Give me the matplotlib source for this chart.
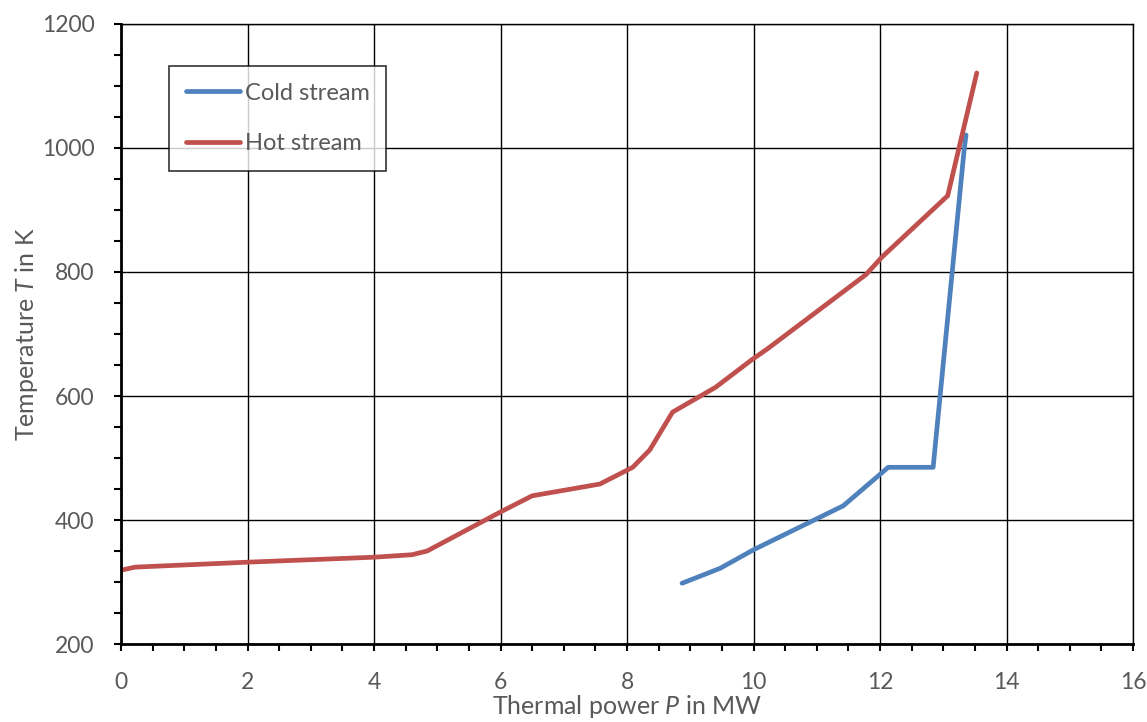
import numpy as np
import matplotlib.pyplot as plt
from matplotlib.ticker import MultipleLocator

plt.rcParams['font.family'] = ['Lato', 'DejaVu Sans']
plt.rcParams['mathtext.fontset'] = 'custom'
plt.rcParams['mathtext.it'] = 'Lato:italic'
plt.rcParams['mathtext.rm'] = 'Lato'

# hot stream: thermal power in MW, temperature in K
hot_P = [0.0, 0.22, 2.0, 4.0, 4.6, 4.84, 6.0, 6.5, 7.57, 8.09, 8.36, 8.72, 9.4, 9.98, 10.22, 11.78, 12.03, 13.07, 13.53]
hot_T = [319, 324, 332, 340, 344, 350, 413, 439, 458, 485, 513, 574, 614, 659, 676, 796, 824, 923, 1121]

# cold stream
cold_P = [8.87, 9.47, 10.0, 11.42, 12.13, 12.84, 13.33, 13.36]
cold_T = [298, 322, 352, 423, 485, 485, 997, 1021]

grey = '#595959'

fig = plt.figure(figsize=(11.47, 7.22), dpi=100)
ax = fig.add_axes([0.1055, 0.108, 0.8823, 0.8588])

ax.plot(cold_P, cold_T, color='#4F81BD', lw=3.4, solid_capstyle='round', solid_joinstyle='round', label='Cold stream')
ax.plot(hot_P, hot_T, color='#C0504D', lw=3.4, solid_capstyle='round', solid_joinstyle='round', label='Hot stream')

ax.set_xlim(0, 16)
ax.set_ylim(200, 1200)
ax.xaxis.set_major_locator(MultipleLocator(2))
ax.xaxis.set_minor_locator(MultipleLocator(0.5))
ax.yaxis.set_major_locator(MultipleLocator(200))
ax.yaxis.set_minor_locator(MultipleLocator(50))
ax.grid(True, which='major', color='black', lw=1)
ax.set_axisbelow(True)

for s in ax.spines.values():
    s.set_color('black')
    s.set_linewidth(1.0)
ax.spines['left'].set_linewidth(2)
ax.spines['bottom'].set_linewidth(2)

ax.tick_params(which='both', direction='out', length=5, width=1.5, color='black', labelcolor=grey, labelsize=16.5)
ax.tick_params(axis='x', which='major', pad=15)
ax.tick_params(axis='y', which='major', pad=14)

ax.set_xlabel('Thermal power $\\mathit{P}$ in MW', fontsize=18, color=grey, labelpad=0)
ax.set_ylabel('Temperature $\\mathit{T}$ in K', fontsize=18, color=grey, labelpad=1)

leg = ax.legend(loc='upper left', bbox_to_anchor=(0.0474, 0.932), borderaxespad=0, fontsize=17,
                frameon=True, fancybox=False, edgecolor='black', handlelength=2.3, handletextpad=0.2,
                labelspacing=1.25, borderpad=0.7, labelcolor=grey)
leg.get_frame().set_linewidth(1.2)

fig.savefig('out.png', dpi=100)
